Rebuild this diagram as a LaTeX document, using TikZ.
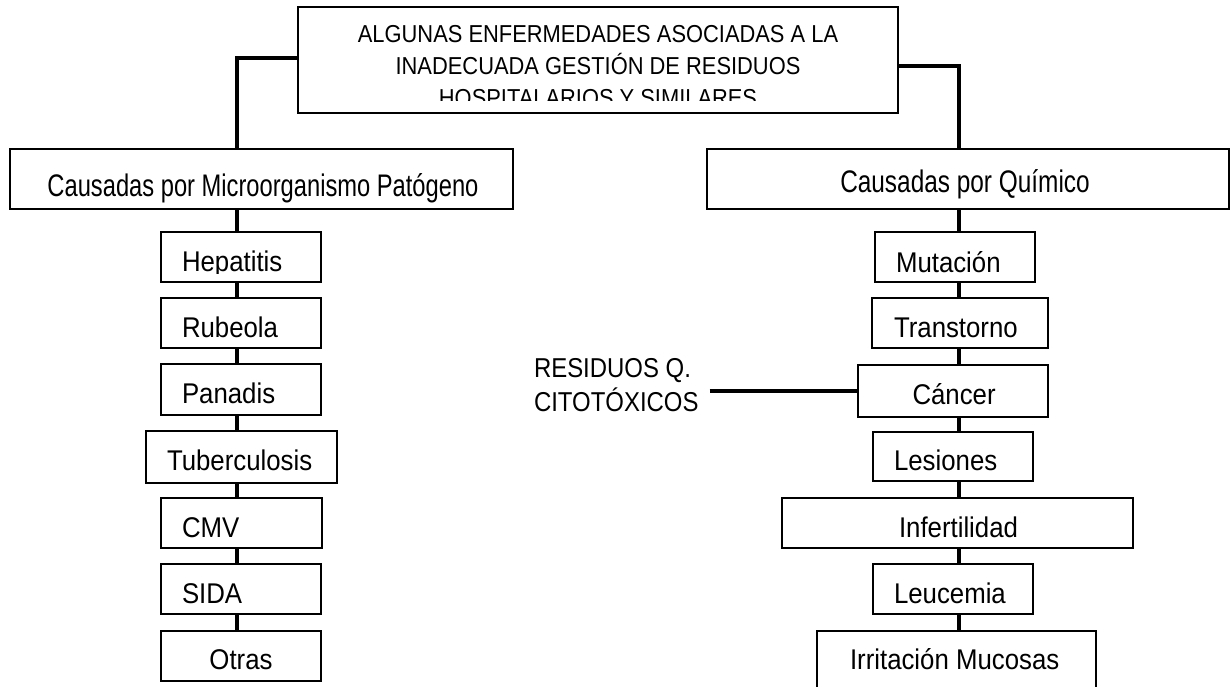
\documentclass[tikz,border=0pt]{standalone}
\usepackage{fontspec}
\setmainfont{Liberation Sans}
\usepackage{graphicx}
\newcommand{\hsq}[2]{\scalebox{#1}[1]{#2}}
\begin{document}
\begin{tikzpicture}[x=1pt,y=-1pt,
  box/.style={draw, line width=1.8pt, inner sep=0pt, outer sep=0pt},
  conn/.style={line width=3.3pt},
  txt/.style={inner sep=0pt, outer sep=0pt, anchor=base west},
  ttl/.style={inner sep=0pt, outer sep=0pt, anchor=base, font=\fontsize{24.5}{24.5}\selectfont},
  cat/.style={inner sep=0pt, outer sep=0pt, anchor=base, font=\fontsize{31.2}{31.2}\selectfont},
  item/.style={txt, font=\fontsize{28.5}{28.5}\selectfont},
  res/.style={txt, font=\fontsize{27.3}{27.3}\selectfont}]
\useasboundingbox (0,0) rectangle (1230,686);
\fill[white] (0,0) rectangle (1230,686);

% boxes
\node[box, minimum width=600pt, minimum height=106pt] (title) at (598,60) {};
\node[box, minimum width=503pt, minimum height=60pt] (lbox) at (261.5,179) {};
\node[box, minimum width=522pt, minimum height=60pt] (rbox) at (968,179) {};

\node[box, minimum width=160pt, minimum height=50pt] (hep) at (241,257) {};
\node[box, minimum width=160pt, minimum height=50pt] (rub) at (241,323) {};
\node[box, minimum width=160pt, minimum height=51pt] (pan) at (241,389.5) {};
\node[box, minimum width=191pt, minimum height=52pt] (tub) at (241.5,457) {};
\node[box, minimum width=161pt, minimum height=50pt] (cmv) at (241.5,523) {};
\node[box, minimum width=160pt, minimum height=50pt] (sida) at (241,589) {};
\node[box, minimum width=160pt, minimum height=50pt] (otr) at (241,656) {};

\node[box, minimum width=160pt, minimum height=50pt] (mut) at (955,257) {};
\node[box, minimum width=176pt, minimum height=50pt] (tra) at (960,323) {};
\node[box, minimum width=190pt, minimum height=52pt] (can) at (953,391) {};
\node[box, minimum width=160pt, minimum height=49pt] (les) at (953,456.5) {};
\node[box, minimum width=351pt, minimum height=50pt] (inf) at (957.5,523) {};
\node[box, minimum width=160pt, minimum height=50pt] (leu) at (953,589) {};
\node[box, minimum width=279pt, minimum height=60pt] (irr) at (956.5,661) {};

% title text
\node[ttl] (t1) at (598,42) {\hsq{0.893}{ALGUNAS ENFERMEDADES ASOCIADAS A LA}};
\node[ttl] (t2) at (598,74) {\hsq{0.893}{INADECUADA GESTIÓN DE RESIDUOS}};
\begin{scope}
  \clip (299,8) rectangle (897,100);
  \node[ttl] (t3) at (598,106) {\hsq{0.893}{HOSPITALARIOS Y SIMILARES}};
\end{scope}

% category text
\node[cat] (lcat) at (263,196) {\hsq{0.76}{Causadas por Microorganismo Patógeno}};
\node[cat] (rcat) at (965,192) {\hsq{0.782}{Causadas por Químico}};

% left items
\begin{scope}
  \clip (162,233) rectangle (320,273);
  \node[item] (hept) at (182,271) {\hsq{0.905}{Hepatitis}};
\end{scope}
\node[item] (rubt) at (182,337) {\hsq{0.905}{Rubeola}};
\node[item] (pant) at (182,403) {\hsq{0.905}{Panadis}};
\node[item] (tubt) at (167,470) {\hsq{0.905}{Tuberculosis}};
\node[item] (cmvt) at (182,537) {\hsq{0.905}{CMV}};
\node[item] (sidat) at (182,603) {\hsq{0.905}{SIDA}};
\node[item, anchor=base] (otrt) at (241,669) {\hsq{0.905}{Otras}};

% right items
\node[item] (mutt) at (896,272) {\hsq{0.905}{Mutación}};
\node[item] (trat) at (894,337) {\hsq{0.905}{Transtorno}};
\node[item] (cant) at (912.5,404) {\hsq{0.905}{Cáncer}};
\node[item] (lest) at (894,470) {\hsq{0.905}{Lesiones}};
\node[item] (inft) at (899,537) {\hsq{0.905}{Infertilidad}};
\node[item] (leut) at (894,603) {\hsq{0.905}{Leucemia}};
\node[item] (irrt) at (850,669) {\hsq{0.905}{Irritación Mucosas}};

% residuos label
\node[res] (res1) at (534,377) {\hsq{0.877}{RESIDUOS Q.}};
\node[res] (res2) at (534,411) {\hsq{0.877}{CITOTÓXICOS}};

% connectors
\coordinate (lj) at (237,58);
\coordinate (rj) at (959,66);
\draw[conn] (title.west |- lj) -- (lj) -- (lbox.north -| lj);
\draw[conn] (title.east |- rj) -- (rj) -- (rbox.north -| rj);

\coordinate (lc) at (237,0);
\coordinate (rc) at (959,0);
\draw[conn] (lbox.south -| lc) -- (hep.north -| lc);
\draw[conn] (hep.south -| lc) -- (rub.north -| lc);
\draw[conn] (rub.south -| lc) -- (pan.north -| lc);
\draw[conn] (pan.south -| lc) -- (tub.north -| lc);
\draw[conn] (tub.south -| lc) -- (cmv.north -| lc);
\draw[conn] (cmv.south -| lc) -- (sida.north -| lc);
\draw[conn] (sida.south -| lc) -- (otr.north -| lc);

\draw[conn] (rbox.south -| rc) -- (mut.north -| rc);
\draw[conn] (mut.south -| rc) -- (tra.north -| rc);
\draw[conn] (tra.south -| rc) -- (can.north -| rc);
\draw[conn] (can.south -| rc) -- (les.north -| rc);
\draw[conn] (les.south -| rc) -- (inf.north -| rc);
\draw[conn] (inf.south -| rc) -- (leu.north -| rc);
\draw[conn] (leu.south -| rc) -- (irr.north -| rc);

\draw[conn] ([xshift=11pt]res2.east |- can.west) -- (can.west);
\end{tikzpicture}
\end{document}
